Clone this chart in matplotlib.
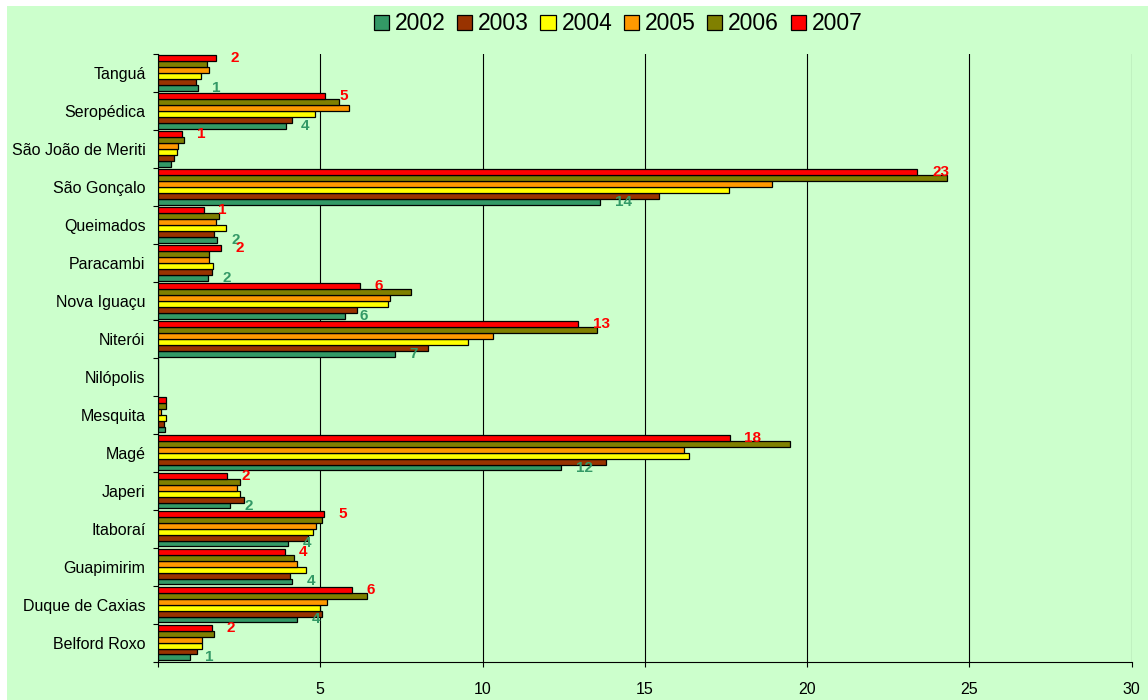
import matplotlib
matplotlib.use("Agg")
import matplotlib.pyplot as plt
from matplotlib.patches import Rectangle
import numpy as np

plt.rcParams['font.family'] = ['Liberation Sans', 'DejaVu Sans']

# categories listed bottom -> top
municipios = ['Belford Roxo', 'Duque de Caxias', 'Guapimirim', 'Itaboraí', 'Japeri',
              'Magé', 'Mesquita', 'Nilópolis', 'Niterói', 'Nova Iguaçu', 'Paracambi',
              'Queimados', 'São Gonçalo', 'São João de Meriti', 'Seropédica', 'Tanguá']
anos = ['2002', '2003', '2004', '2005', '2006', '2007']

v2002 = [1.00, 4.28, 4.12, 4.00, 2.22, 12.43, 0.23, 0, 7.31, 5.76, 1.53, 1.82, 13.62, 0.41, 3.94, 1.22]
v2003 = [1.19, 5.06, 4.07, 4.63, 2.64, 13.81, 0.18, 0, 8.31, 6.13, 1.66, 1.74, 15.44, 0.48, 4.13, 1.18]
v2004 = [1.37, 5.00, 4.55, 4.79, 2.52, 16.36, 0.25, 0, 9.56, 7.08, 1.69, 2.08, 17.60, 0.57, 4.85, 1.31]
v2005 = [1.35, 5.21, 4.27, 4.86, 2.42, 16.20, 0.09, 0, 10.33, 7.14, 1.56, 1.80, 18.92, 0.61, 5.89, 1.58]
v2006 = [1.74, 6.43, 4.18, 5.04, 2.54, 19.47, 0.25, 0, 13.54, 7.80, 1.57, 1.87, 24.32, 0.79, 5.58, 1.52]
v2007 = [1.65, 5.98, 3.90, 5.10, 2.12, 17.62, 0.25, 0, 12.95, 6.21, 1.95, 1.41, 23.40, 0.75, 5.15, 1.79]
series = [v2002, v2003, v2004, v2005, v2006, v2007]

cores = ['#339966', '#993300', '#FFFF00', '#FF9900', '#808000', '#FF0000']
bg = '#CCFFCC'

fig = plt.figure(figsize=(11.48, 7), dpi=100)
fig.patch.set_facecolor('white')
fig.patches.append(Rectangle((7 / 1148, 0), 1 - 7 / 1148, 1 - 6 / 700,
                             transform=fig.transFigure, facecolor=bg,
                             edgecolor='none', zorder=-5))

ax = fig.add_axes([158 / 1148, 38.3 / 700, (1131.7 - 158) / 1148, (661.7 - 54) / 700])
ax.set_facecolor(bg)

y = np.arange(len(municipios))
h = 0.155
for j, vals in enumerate(series):
    pos = y + (j - 2.5) * h
    ax.barh(pos, vals, height=h, color=cores[j], edgecolor='black',
            linewidth=0.9, label=anos[j], zorder=3)
    if j in (0, 5):
        # labels only for 2002 and 2007, rounded; zeros are hidden
        for yy, v in zip(pos, vals):
            txt = f"{v:.0f}"
            if txt == '0':
                continue
            ax.annotate(txt, (v, yy), xytext=(10.5, 0), textcoords='offset points',
                        ha='left', va='center', fontsize=11, fontweight='bold',
                        color=cores[j], zorder=4)

ax.set_xlim(0, 30)
ax.set_ylim(-0.5, len(municipios) - 0.5)
ax.set_xticks(range(0, 31, 5))
ax.set_xticklabels([''] + [str(t) for t in range(5, 31, 5)], fontsize=11.5)
ax.tick_params(axis='x', length=3.6, width=0.8, pad=11, color='black')

ax.set_yticks(np.arange(-0.5, len(municipios), 1))
ax.set_yticklabels([])
ax.tick_params(axis='y', which='major', length=3.6, width=0.8)
ax.set_yticks(y, minor=True)
ax.set_yticklabels(municipios, minor=True, fontsize=11.5)
ax.tick_params(axis='y', which='minor', length=0, pad=9)

ax.xaxis.grid(True, color='black', linewidth=0.8)
ax.set_axisbelow(True)
for s in ['top', 'right']:
    ax.spines[s].set_visible(False)
ax.spines['left'].set_linewidth(0.8)
ax.spines['bottom'].set_linewidth(0.8)

fig.legend(loc='center', bbox_to_anchor=(618 / 1148, 1 - 24 / 700), ncol=6,
           frameon=False, fontsize=16.5, handlelength=0.66, handleheight=0.66,
           handletextpad=0.26, columnspacing=0.5, borderpad=0)

fig.savefig('out.png', dpi=100, facecolor=fig.get_facecolor())
